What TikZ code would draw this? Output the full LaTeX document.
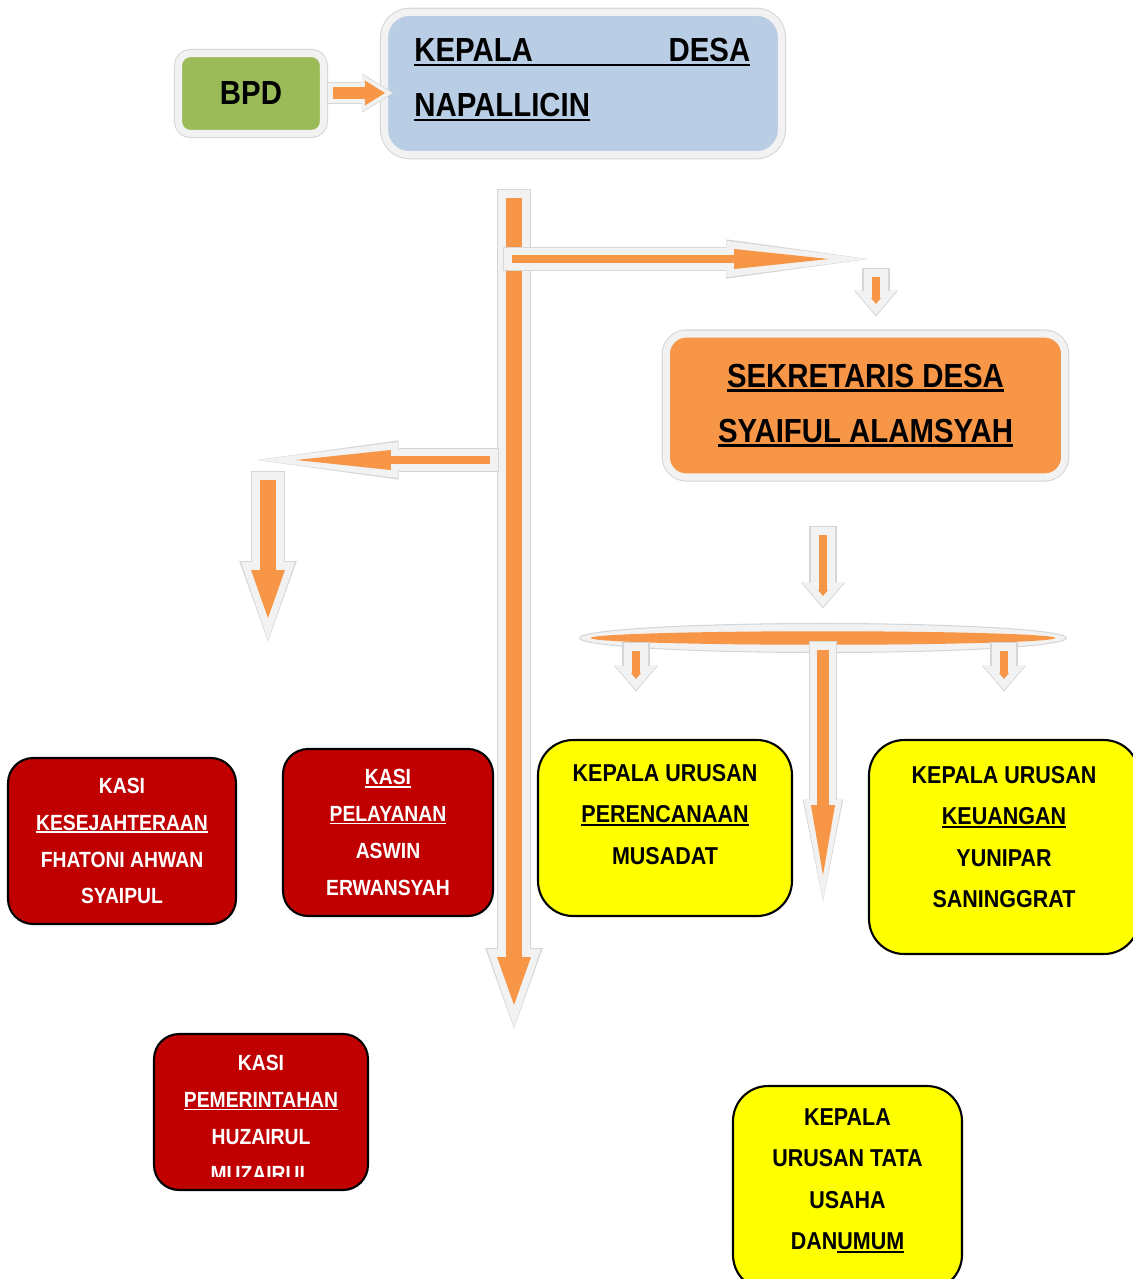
\documentclass[tikz,border=0pt]{standalone}
\usepackage{fontspec}
\newfontfamily\orgfont{Liberation Sans}[FakeStretch=0.88]
\usepackage{tikz}
\usetikzlibrary{arrows.meta,shapes.geometric}

\definecolor{glow}{HTML}{F2F2F2}
\definecolor{glowedge}{HTML}{D6D6D6}
\definecolor{orng}{HTML}{F79646}
\definecolor{bpdgreen}{HTML}{9BBB59}
\definecolor{kadesblue}{HTML}{B9CDE5}
\definecolor{kasired}{HTML}{C00000}
\definecolor{kauryellow}{HTML}{FFFF00}

\newcommand{\bigfont}{\orgfont\bfseries\fontsize{19pt}{31.3pt}\selectfont}
\newcommand{\kasifont}{\orgfont\bfseries\fontsize{12.5pt}{21pt}\selectfont}
\newcommand{\kaurfont}{\orgfont\bfseries\fontsize{13.9pt}{23.6pt}\selectfont}
\newsavebox{\ulbox}
\newcommand{\ulbar}[1]{\sbox{\ulbox}{#1}\rlap{\rule[-0.13em]{\wd\ulbox}{0.08em}}\usebox{\ulbox}}

\begin{document}
\begin{tikzpicture}[x=0.02cm,y=-0.02cm,
    lay/.style n args={4}{draw=#1,line width=#2,-{Triangle[line width=0pt,width=#3,length=#4]}},
    bigarrow/.style={lay={glowedge}{19.4pt}{32.8pt}{45.8pt},shorten >=-0.9pt,shorten <=-0.6pt,
        postaction={lay={glow}{18.2pt}{30.7pt}{44.4pt},shorten >=0pt,shorten <=0pt},
        postaction={lay={orng}{9.1pt}{19.3pt}{27.3pt},shorten >=12.5pt,shorten <=4.5pt}},
    longarrow/.style={lay={glowedge}{13.7pt}{22.4pt}{81pt},shorten >=-0.9pt,shorten <=-0.6pt,
        postaction={lay={glow}{12.5pt}{20.5pt}{79.7pt},shorten >=0pt,shorten <=0pt},
        postaction={lay={orng}{4pt}{11.4pt}{54pt},shorten >=21.6pt,shorten <=4.5pt}},
    midarrow/.style={lay={glowedge}{16pt}{23pt}{58pt},shorten >=-0.9pt,shorten <=-0.6pt,
        postaction={lay={glow}{14.8pt}{21.6pt}{56.9pt},shorten >=0pt,shorten <=0pt},
        postaction={lay={orng}{6.3pt}{13.7pt}{39.8pt},shorten >=14.2pt,shorten <=4.5pt}},
    bpdarrow/.style={lay={glowedge}{12.6pt}{22.4pt}{18pt},shorten >=-0.9pt,shorten <=-0.6pt,
        postaction={lay={glow}{11.4pt}{21pt}{17pt},shorten >=0pt,shorten <=0pt},
        postaction={lay={orng}{6.3pt}{14.2pt}{11.4pt},shorten >=4pt,shorten <=2.8pt}},
    smallarrow/.style={lay={glowedge}{15.4pt}{25pt}{14.8pt},shorten >=-0.9pt,shorten <=-0.6pt,
        postaction={lay={glow}{14.2pt}{23.3pt}{13.7pt},shorten >=0pt,shorten <=0pt},
        postaction={lay={orng}{4.6pt}{5.7pt}{3.4pt},shorten >=6.3pt,shorten <=4.5pt}},
    glowbox/.style={rectangle,rounded corners=#1,draw=glow,line width=4pt,
        preaction={draw=glowedge,line width=5.2pt}},
    kasibox/.style={rectangle,rounded corners=0.5cm,fill=kasired,draw=black,line width=1.2pt,
        text=white,align=center,font=\kasifont},
    kaurbox/.style={rectangle,rounded corners=0.7cm,fill=kauryellow,draw=black,line width=1.2pt},
    kaurtext/.style={align=center,font=\kaurfont,inner sep=0pt}]
\useasboundingbox (0,0) rectangle (1133,1279);

        % kepala desa dan bpd
        \node[glowbox=0.24cm, fill=bpdgreen, minimum width=2.9cm, minimum height=1.6cm, font=\bigfont]   (bpd)   at (251,93.5)  {BPD};
        \node[glowbox=0.5cm, fill=kadesblue, minimum width=7.94cm, minimum height=2.85cm]              (kades) at (583,83.5)  {};
        \node[anchor=west, align=left, font=\bigfont, inner sep=0pt]                                    (kadestext) at (414,80)
            {\ulbar{\hbox to 6.72cm{KEPALA\hfill DESA}}\\ \ulbar{NAPALLICIN}};

        % sekretaris
        \node[glowbox=0.4cm, fill=orng, minimum width=7.97cm, minimum height=2.86cm, align=center, font=\bigfont] (sekdes) at (865.5,405.5)
            {\ulbar{SEKRETARIS DESA}\\ \ulbar{SYAIFUL ALAMSYAH}};

        % kasi
        \node[kasibox, minimum width=4.56cm, minimum height=3.32cm] (kesra) at (122,841)
            {KASI\\ \ulbar{KESEJAHTERAAN}\\ FHATONI AHWAN\\ SYAIPUL};
        \node[kasibox, minimum width=4.2cm, minimum height=3.34cm]  (pelayanan) at (388,832.5)
            {\ulbar{KASI}\\ \ulbar{PELAYANAN}\\ ASWIN\\ ERWANSYAH};
        \node[kasibox, minimum width=4.28cm, minimum height=3.12cm] (pemerintahan) at (261,1112) {};
        \begin{scope}
          \clip (154,1034) rectangle (368,1176);
          \node[text=white, align=center, font=\kasifont, inner sep=0pt] (pemtext) at (261,1118.5)
            {KASI\\ \ulbar{PEMERINTAHAN}\\ HUZAIRUL\\ MUZAIRUL};
        \end{scope}

        % kaur
        \node[kaurbox, minimum width=5.08cm, minimum height=3.52cm] (perencanaan) at (665,828) {};
        \node[kaurtext] (perentext) at (665,814.5) {KEPALA URUSAN\\ \ulbar{PERENCANAAN}\\ MUSADAT};
        \node[kaurbox, minimum width=5.4cm, minimum height=4.28cm]  (keuangan) at (1004,847) {};
        \node[kaurtext] (keutext) at (1004,837) {KEPALA URUSAN\\ \ulbar{KEUANGAN}\\ YUNIPAR\\ SANINGGRAT};
        \node[kaurbox, minimum width=4.58cm, minimum height=4.08cm] (tatausaha) at (847.5,1188) {};
        \node[kaurtext] (tutext) at (847.5,1180.5) {KEPALA\\ URUSAN TATA\\ USAHA\\ DAN\ulbar{UMUM}};

        % bar under sekretaris
        \node[ellipse, fill=glow, draw=glowedge, line width=0.6pt, minimum width=9.74cm, minimum height=0.58cm, inner sep=0pt] (kaurbar) at (823,638) {};
        \node[ellipse, fill=orng, minimum width=9.3cm, minimum height=0.27cm, inner sep=0pt] (kaurbarin) at (823,638) {};

        \coordinate (bpdout)        at (328,93);
        \coordinate (kadesin)       at (392,93);
        \coordinate (trunktop)      at (514,190);
        \coordinate (trunkend)      at (514,1027);
        \coordinate (sekbranch)     at (504,259);
        \coordinate (sekbranchend)  at (867,259);
        \coordinate (sekin)         at (876,269);
        \coordinate (sekintip)      at (876,315);
        \coordinate (kasibranch)    at (498,460);
        \coordinate (kasibranchend) at (258,460);
        \coordinate (kasidown)      at (268,472);
        \coordinate (kasidowntip)   at (268,640);
        \coordinate (kaurtop)       at (823,527);
        \coordinate (kaurtoptip)    at (823,607);
        \coordinate (kaurleft)      at (636,643);
        \coordinate (kaurlefttip)   at (636,690);
        \coordinate (kaurright)     at (1004,643);
        \coordinate (kaurrighttip)  at (1004,690);
        \coordinate (kaurmid)       at (823,642);
        \coordinate (kaurmidtip)    at (823,900);

        \draw[bpdarrow]   (bpdout)     -- (kadesin);
        \draw[bigarrow]   (trunktop)   -- (trunkend);
        \draw[longarrow]  (sekbranch)  -- (sekbranchend);
        \draw[smallarrow] (sekin)      -- (sekintip);
        \draw[longarrow]  (kasibranch) -- (kasibranchend);
        \draw[bigarrow]   (kasidown)   -- (kasidowntip);
        \draw[smallarrow] (kaurtop)    -- (kaurtoptip);
        \draw[smallarrow] (kaurleft)   -- (kaurlefttip);
        \draw[smallarrow] (kaurright)  -- (kaurrighttip);
        \draw[midarrow]   (kaurmid)    -- (kaurmidtip);
        ; %end arrows

\end{tikzpicture}
\end{document}
